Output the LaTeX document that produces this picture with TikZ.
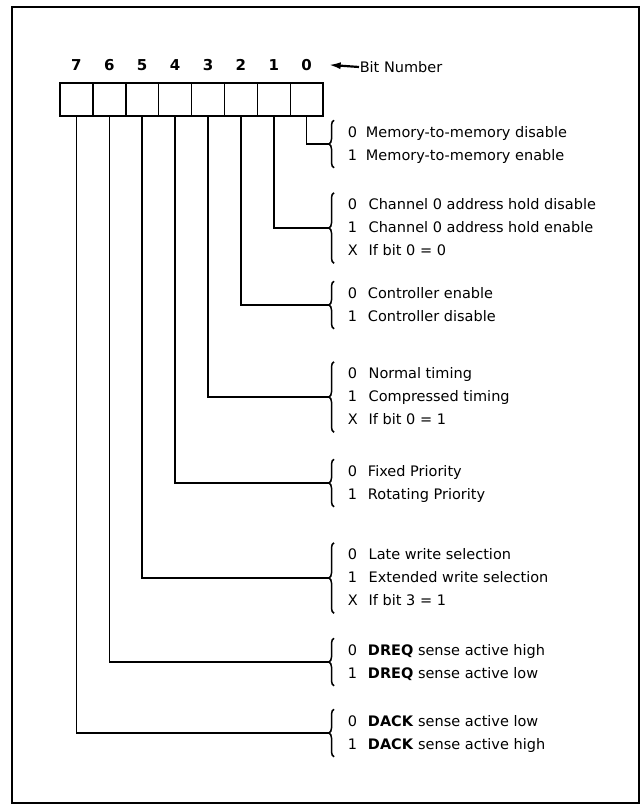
\documentclass[tikz,border=0pt]{standalone}
\usepackage{fontspec}
\setmainfont{DejaVu Sans}
\usepackage{tikz}
\usetikzlibrary{arrows.meta,positioning,decorations.pathreplacing}

\begin{document}
\begin{tikzpicture}[x=1pt, y=-1pt, >=Latex, line width=1.5pt,
  every node/.style={font=\fontsize{14.5}{23}\selectfont, inner sep=0pt},
  bitbox/.style={draw, minimum width=32.9pt, minimum height=33pt},
  bitnum/.style={font=\fontsize{15}{18}\selectfont\bfseries},
  codes/.style={anchor=west, align=left},
  selbrace/.style={decorate, decoration={brace, amplitude=5pt}}]
  \useasboundingbox (0,0) rectangle (644,804);
  % Frame
  \draw[line width=2.2pt] (12,7) rectangle (639,803);

  % Register bits
  \foreach \i in {0,...,7} {
    \node[bitbox] (b\i) at ({76.4+32.9*(7-\i)},99.5) {};
    \node[bitnum, above=11pt of b\i] (n\i) {\i};
  }
  \node[anchor=west] (bitlabel) at (359,67) {Bit Number};
  \draw[-{Latex[length=12pt,width=7pt]}, line width=2.2pt] (bitlabel.west) -- ([xshift=16pt]n0.east);

  % Bit meanings
  \node[codes] (t0) at (347,144) {\begin{tabular}{@{}l@{\hspace{9pt}}l@{}}0 & Memory-to-memory disable\\ 1 & Memory-to-memory enable\end{tabular}};
  \node[codes] (t1) at (347,228) {\begin{tabular}{@{}l@{\hspace{11pt}}l@{}}0 & Channel 0 address hold disable\\ 1 & Channel 0 address hold enable\\ X & If bit 0 = 0\end{tabular}};
  \node[codes] (t2) at (347,305) {\begin{tabular}{@{}l@{\hspace{11pt}}l@{}}0 & Controller enable\\ 1 & Controller disable\end{tabular}};
  \node[codes] (t3) at (347,397) {\begin{tabular}{@{}l@{\hspace{11pt}}l@{}}0 & Normal timing\\ 1 & Compressed timing\\ X & If bit 0 = 1\end{tabular}};
  \node[codes] (t4) at (347,483) {\begin{tabular}{@{}l@{\hspace{11pt}}l@{}}0 & Fixed Priority\\ 1 & Rotating Priority\end{tabular}};
  \node[codes] (t5) at (347,578) {\begin{tabular}{@{}l@{\hspace{11pt}}l@{}}0 & Late write selection\\ 1 & Extended write selection\\ X & If bit 3 = 1\end{tabular}};
  \node[codes] (t6) at (347,662) {\begin{tabular}{@{}l@{\hspace{11pt}}l@{}}0 & \textbf{DREQ} sense active high\\ 1 & \textbf{DREQ} sense active low\end{tabular}};
  \node[codes] (t7) at (347,733) {\begin{tabular}{@{}l@{\hspace{11pt}}l@{}}0 & \textbf{DACK} sense active low\\ 1 & \textbf{DACK} sense active high\end{tabular}};

  % Braces and leads
  \foreach \i in {0,...,7} {
    \draw[selbrace] ([xshift=-13pt]t\i.south west) -- ([xshift=-13pt]t\i.north west);
    \draw (b\i.south) |- ([xshift=-18pt]t\i.west);
  }
\end{tikzpicture}
\end{document}
